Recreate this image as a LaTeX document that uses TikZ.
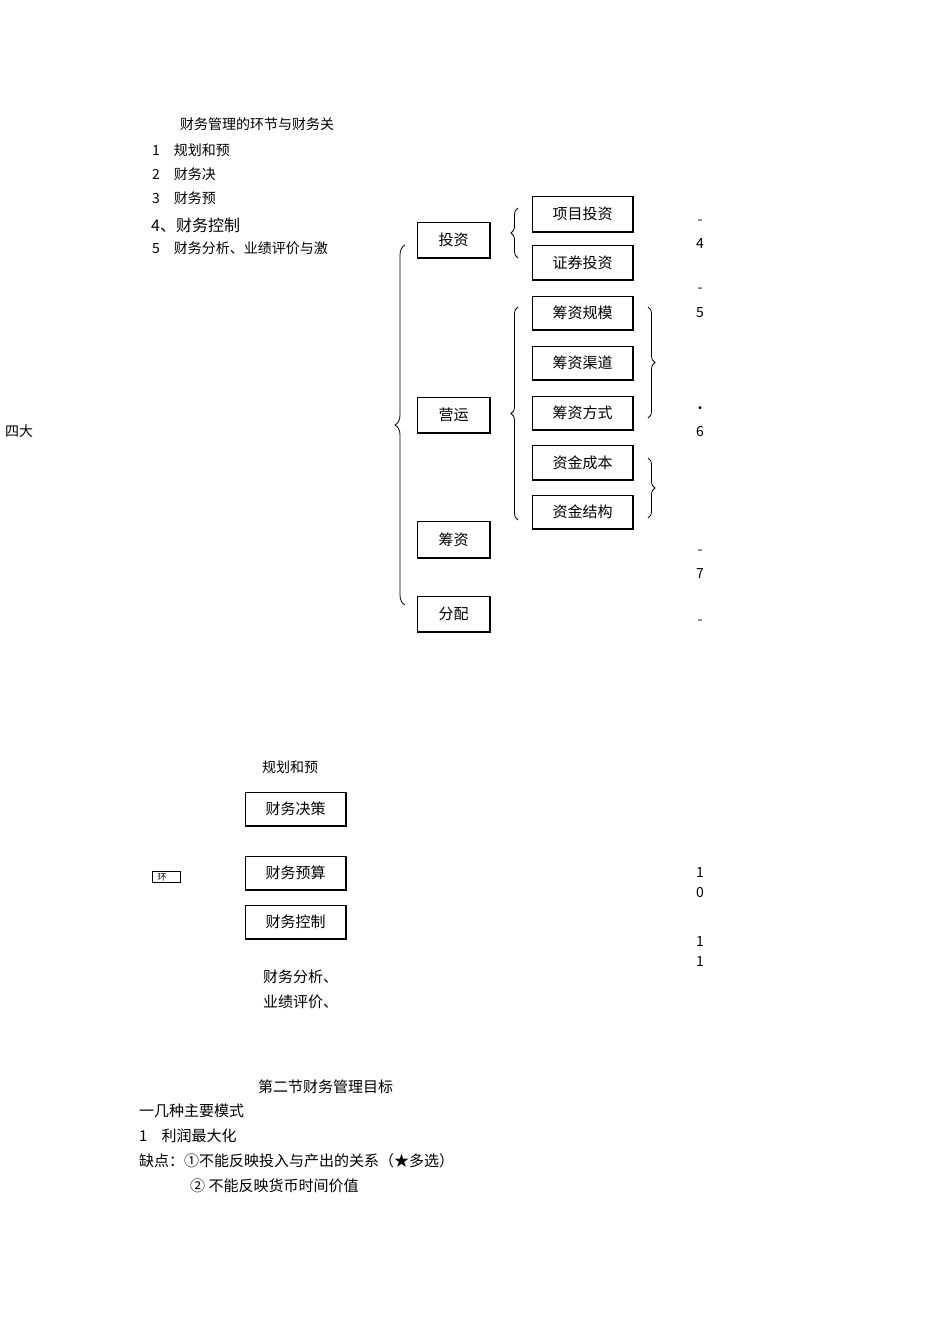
\documentclass[tikz,border=0pt]{standalone}
\usepackage{fontspec}
\setmainfont{Noto Sans CJK SC}
\usetikzlibrary{decorations.pathreplacing}
\tikzset{
 bx/.style={draw,line width=0.8pt,inner sep=0pt},
 br/.style={decorate,decoration={brace,amplitude=7pt},line width=0.8pt},
 tx/.style={anchor=west,inner sep=0pt,font=\fontsize{14}{14}\selectfont},
 bt/.style={anchor=west,inner sep=0pt,font=\fontsize{15}{15}\selectfont},
 num/.style={inner sep=0pt,font=\fontsize{14}{14}\selectfont}
}
\newcommand{\shbox}[6]{% name x1 y1 x2 y2 text
 \draw[line width=0.8pt] (#2,#3) rectangle (#4,#5);
 \draw[line width=2pt] (#4,#3) -- (#4,#5) -- (#2,#5);
 \node[inner sep=0pt,font=\fontsize{15}{15}\selectfont] (#1) at ({(#2+#4)/2},{(#3+#5)/2}) {#6};}
\begin{document}
\begin{tikzpicture}[x=1pt,y=-1pt]
\useasboundingbox (0,0) rectangle (950,1344);
\node[tx] (t0) at (180,124) {财务管理的环节与财务关};
\node[tx] (t1) at (152,150) {1\hspace{14pt}规划和预};
\node[tx] (t2) at (152,174) {2\hspace{14pt}财务决};
\node[tx] (t3) at (152,198) {3\hspace{14pt}财务预};
\node[anchor=west,inner sep=0pt,font=\fontsize{16}{16}\selectfont] (t4) at (151,225) {4、财务控制};
\node[tx] (t5) at (152,248) {5\hspace{14pt}财务分析、业绩评价与激};
\node[tx] (sida) at (5,431) {四大};
\shbox{tz}{417}{222}{490}{258}{投资}
\shbox{yy}{417}{397}{490}{433}{营运}
\shbox{cz}{417}{521}{490}{558}{筹资}
\shbox{fp}{417}{596}{490}{632}{分配}
\shbox{xm}{532}{196}{633}{232}{项目投资}
\shbox{zq}{532}{245}{633}{280}{证券投资}
\shbox{gm}{532}{296}{633}{330}{筹资规模}
\shbox{qd}{532}{346}{633}{380}{筹资渠道}
\shbox{fs}{532}{396}{633}{430}{筹资方式}
\shbox{cb}{532}{445}{633}{480}{资金成本}
\shbox{jg}{532}{495}{633}{529}{资金结构}
\draw[br,decoration={amplitude=10pt}] (405,605) -- (405,245);
\draw[br] (518,258) -- (518,208);
\draw[br] (518,520) -- (518,307);
\draw[br] (648,307) -- (648,418);
\draw[br] (648,458) -- (648,518);
\foreach \t/\y [count=\i] in {-/222,4/244,-/290,5/313,•/410,6/432,-/552,7/574,-/622,1/872,0/892,1/941,1/961}
 \node[num] (n\i) at (700,\y) {\t};
\node[tx] (g0) at (262,767) {规划和预};
\shbox{jc}{245}{792}{346}{826}{财务决策}
\shbox{ys}{245}{856}{346}{890}{财务预算}
\shbox{kz}{245}{905}{346}{939}{财务控制}
\draw[line width=0.6pt] (152,871) rectangle (180,882);
\node[inner sep=0pt,font=\fontsize{9}{9}\selectfont] (huan) at (162,877) {环};
\node[bt] (fx) at (263,977) {财务分析、};
\node[bt] (pj) at (263,1002) {业绩评价、};
\node[bt] (s2) at (258,1087) {第二节财务管理目标};
\node[bt] (s3) at (139,1111) {一几种主要模式};
\node[bt] (s4) at (139,1136) {1\hspace{14pt}利润最大化};
\node[bt] (s5) at (139,1161) {缺点：①不能反映投入与产出的关系（★多选）};
\node[bt] (s6) at (190,1186) {② 不能反映货币时间价值};
\end{tikzpicture}
\end{document}
